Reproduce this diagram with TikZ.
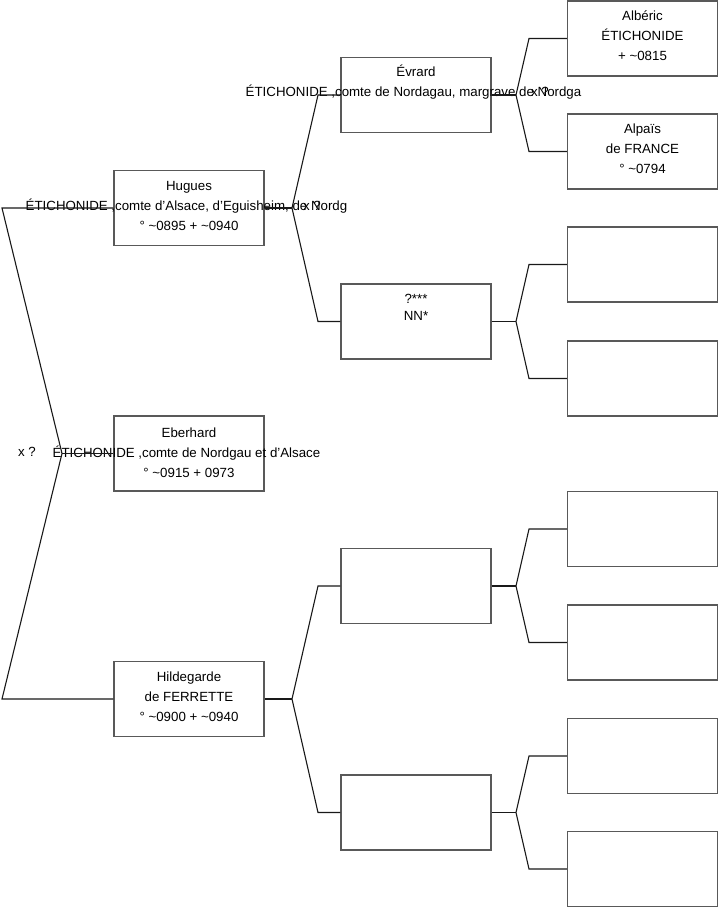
\documentclass[tikz,border=0pt]{standalone}
\usepackage{fontspec}
\setmainfont{Liberation Sans}
\newcommand\tld{\char"7E\relax}
\begin{document}
\begin{tikzpicture}[x=1pt,y=-1pt,
  box/.style={draw=black!65,line width=1.2pt,minimum width=150pt,minimum height=75pt,inner sep=0pt},
  lbl/.style={anchor=base,inner sep=0pt,font=\fontsize{13.3}{15}\selectfont,text=black},
  conn/.style={draw=black!90,line width=1.1pt}]
\useasboundingbox (0,0) rectangle (719,908);
% boxes
\node[box] (hugues) at (189,208) {};
\node[box] (eberhard) at (189,453.5) {};
\node[box] (hild) at (189,699) {};
\node[box] (evrard) at (416,95) {};
\node[box] (nn) at (416,321.5) {};
\node[box] (g2c) at (416,586) {};
\node[box] (g2d) at (416,812.5) {};
\node[box] (alberic) at (642.5,38.5) {};
\node[box] (alpais) at (642.5,151.5) {};
\node[box] (g3c) at (642.5,264.5) {};
\node[box] (g3d) at (642.5,378.5) {};
\node[box] (g3e) at (642.5,529) {};
\node[box] (g3f) at (642.5,642.5) {};
\node[box] (g3g) at (642.5,756) {};
\node[box] (g3h) at (642.5,869) {};
% fork columns
\coordinate (rb) at (2,0);
\coordinate (rf) at (62,453.5);
\coordinate (f1) at (292,0);
\coordinate (b1) at (318,0);
\coordinate (f2) at (516,0);
\coordinate (b2) at (529,0);
% texts
\node[lbl] (t1a) at (189,190.5) {Hugues};
\node[lbl] (t1b) at (186.5,210.5) {ÉTICHONIDE ,comte d'Alsace, d'Eguisheim, de Nordg};
\node[lbl] (t1c) at (189,230.5) {° \tld0895 + \tld0940};
\node[lbl] (x1) at (312,210.5) {x ?};
\node[lbl] (t2a) at (189,437.5) {Eberhard};
\node[lbl] (t2b) at (186.5,457.5) {ÉTICHONIDE ,comte de Nordgau et d'Alsace};
\node[lbl] (t2c) at (189,477.5) {° \tld0915 + 0973};
\node[lbl] (x0) at (27,456.5) {x ?};
\node[lbl] (t3a) at (189,681.5) {Hildegarde};
\node[lbl] (t3b) at (189,701.5) {de FERRETTE};
\node[lbl] (t3c) at (189,721.5) {° \tld0900 + \tld0940};
\node[lbl] (t4a) at (416,76.5) {Évrard};
\node[lbl] (t4b) at (413.5,96.5) {ÉTICHONIDE ,comte de Nordagau, margrave de Nordga};
\node[lbl] (x2) at (540,96.5) {x ?};
\node[lbl] (t5a) at (416,303) {?***};
\node[lbl] (t5b) at (416,320.5) {NN*};
\node[lbl] (t6a) at (642.5,20.5) {Albéric};
\node[lbl] (t6b) at (642.5,40.5) {ÉTICHONIDE};
\node[lbl] (t6c) at (642.5,60.5) {+ \tld0815};
\node[lbl] (t7a) at (642.5,133.5) {Alpaïs};
\node[lbl] (t7b) at (642.5,153.5) {de FRANCE};
\node[lbl] (t7c) at (642.5,173.5) {° \tld0794};
% root connectors
\draw[conn] (hugues.west) -- (hugues.west -| rb) -- (rf) -- (hild.west -| rb) -- (hild.west);
\draw[conn] (rf) -- (eberhard.west);
% generation 1 -> 2
\draw[conn] (hugues.east) -- (hugues.east -| f1) coordinate (fh);
\draw[conn] (fh) -- (evrard.west -| b1) -- (evrard.west);
\draw[conn] (fh) -- (nn.west -| b1) -- (nn.west);
\draw[conn] (hild.east) -- (hild.east -| f1) coordinate (fd);
\draw[conn] (fd) -- (g2c.west -| b1) -- (g2c.west);
\draw[conn] (fd) -- (g2d.west -| b1) -- (g2d.west);
% generation 2 -> 3
\draw[conn] (evrard.east) -- (evrard.east -| f2) coordinate (fe);
\draw[conn] (fe) -- (alberic.west -| b2) -- (alberic.west);
\draw[conn] (fe) -- (alpais.west -| b2) -- (alpais.west);
\draw[conn] (nn.east) -- (nn.east -| f2) coordinate (fn);
\draw[conn] (fn) -- (g3c.west -| b2) -- (g3c.west);
\draw[conn] (fn) -- (g3d.west -| b2) -- (g3d.west);
\draw[conn] (g2c.east) -- (g2c.east -| f2) coordinate (fc);
\draw[conn] (fc) -- (g3e.west -| b2) -- (g3e.west);
\draw[conn] (fc) -- (g3f.west -| b2) -- (g3f.west);
\draw[conn] (g2d.east) -- (g2d.east -| f2) coordinate (fg);
\draw[conn] (fg) -- (g3g.west -| b2) -- (g3g.west);
\draw[conn] (fg) -- (g3h.west -| b2) -- (g3h.west);
\end{tikzpicture}
\end{document}
